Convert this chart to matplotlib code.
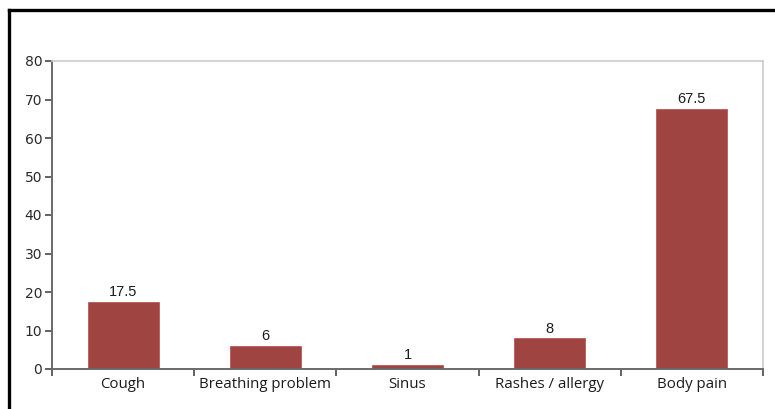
import matplotlib
matplotlib.use("Agg")
import matplotlib.pyplot as plt
from matplotlib.lines import Line2D
import numpy as np

categories = ["Cough", "Breathing problem", "Sinus", "Rashes / allergy", "Body pain"]
values = [17.5, 6, 1, 8, 67.5]
value_labels = ["17.5", "6", "1", "8", "67.5"]
y_ticks = [0, 10, 20, 30, 40, 50, 60, 70, 80]

W, H = 775, 409
fig = plt.figure(figsize=(W / 100, H / 100), dpi=100)
fig.patch.set_facecolor("white")

ax = fig.add_axes([52 / W, (H - 369) / H, (763 - 52) / W, (369 - 61) / H])

x = np.arange(len(categories))
ax.bar(x, values, width=0.5, color="#a04442", edgecolor="#b85a58", linewidth=0.6, zorder=2)

for xi, v, lab in zip(x, values, value_labels):
    ax.text(xi, v + 0.7, lab, ha="center", va="bottom", fontsize=10.5,
            family="Liberation Sans", color="#1a1a1a")

ax.set_xlim(-0.5, len(categories) - 0.5)
ax.set_ylim(0, 80)
ax.set_yticks(y_ticks)
ax.set_yticklabels([str(t) for t in y_ticks], fontsize=10, family="DejaVu Sans", color="#2a2a2a")
ax.set_xticks(x)
ax.set_xticklabels(categories, fontsize=10.8, family="Open Sans", color="#1a1a1a")
ax.set_xticks(np.arange(-0.5, len(categories)), minor=True)
ax.tick_params(axis="x", which="major", length=0, pad=6)
ax.tick_params(axis="x", which="minor", length=5, width=1.3, color="#555555", direction="out")
ax.tick_params(axis="y", length=5, width=1.3, color="#555555", direction="out", pad=2)

for side in ("left", "bottom"):
    ax.spines[side].set_color("#6a6a6a")
    ax.spines[side].set_linewidth(1.4)
for side in ("top", "right"):
    ax.spines[side].set_color("#cccccc")
    ax.spines[side].set_linewidth(1.2)

# outer frame (left and top edges)
fig.add_artist(Line2D([8.5 / W, 8.5 / W], [0, (H - 10) / H], color="black", linewidth=2.4, transform=fig.transFigure))
fig.add_artist(Line2D([8.5 / W, 1.0], [(H - 10) / H, (H - 10) / H], color="black", linewidth=2.4, transform=fig.transFigure))

fig.savefig("out.png", dpi=100)
